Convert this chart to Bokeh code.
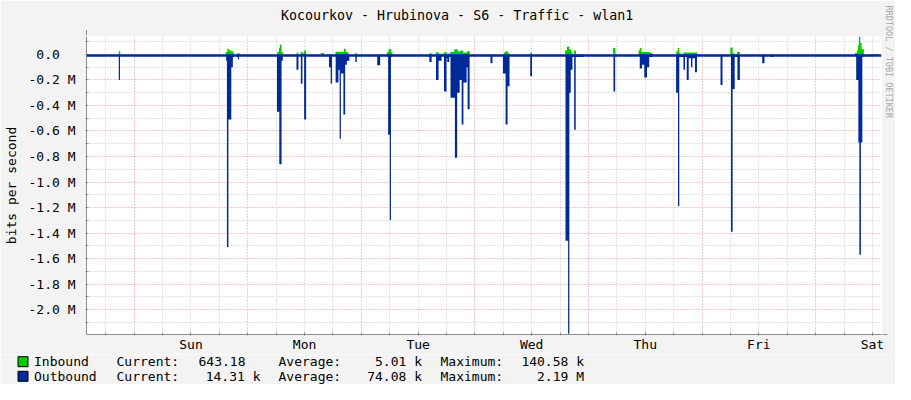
from bokeh.plotting import figure
from bokeh.layouts import column
from bokeh.models import (FixedTicker, Arrow, NormalHead, CustomJSTickFormatter, Range1d,
                          Span, Title, ColumnDataSource)
from bokeh.core.properties import value
from bokeh.embed import file_html
from bokeh.resources import INLINE

# ---------------- data (x in hours from Sunday 00:00, y in Mbit/s) ----------------
title_text = "Kocourkov - Hrubinova - S6 - Traffic - wlan1"
y_title = "bits per second"
watermark = "RRDTOOL / TOBI OETIKER"

day_names = ["Sun", "Mon", "Tue", "Wed", "Thu", "Fri", "Sat"]
day_label_hours = [12, 36, 60, 84, 108, 132, 156]
midnight_hours = [0, 24, 48, 72, 96, 120, 144]
six_hour_marks = [-6, 6, 12, 18, 30, 36, 42, 54, 60, 66, 78, 84, 90, 102, 108, 114,
                  126, 132, 138, 150, 156]
all_six_hour_marks = [-6, 0, 6, 12, 18, 24, 30, 36, 42, 48, 54, 60, 66, 72, 78, 84, 90,
                      96, 102, 108, 114, 120, 126, 132, 138, 144, 150, 156]
y_major = [-2.0, -1.8, -1.6, -1.4, -1.2, -1.0, -0.8, -0.6, -0.4, -0.2, 0.0]
y_minor = [-2.1, -1.9, -1.7, -1.5, -1.3, -1.1, -0.9, -0.7, -0.5, -0.3, -0.1, 0.1]

x_start, x_end = -10.08, 157.92
y_bottom, y_top = -2.195, 0.1406

# step series: each value holds from its time until the next time
in_t = [-10.08,
        -3.26, -2.94,
        19.32, 19.68, 20.01, 20.37, 20.90, 21.11,
        21.84, 22.26,
        30.24, 30.60, 30.81, 31.14, 31.40,
        34.34, 34.65, 35.18, 35.55, 35.91, 36.33,
        39.42, 40.11,
        42.53, 44.31, 44.73, 45.26,
        46.73, 47.04,
        53.45, 53.76, 54.33, 54.60,
        62.37, 62.85,
        63.74, 64.32, 65.42, 66.00, 66.78, 67.62, 68.36, 68.99, 69.51, 70.35, 70.92,
        78.12, 78.44, 78.96, 79.32,
        83.69, 84.06,
        91.08, 91.46, 91.88, 92.30, 92.61, 92.93, 93.35,
        101.22, 101.70,
        106.58, 106.83, 107.21, 108.99, 109.52,
        114.56, 114.87, 115.19, 115.50, 116.03, 118.97,
        125.98, 126.46, 126.82, 127.39, 128.02,
        152.31, 152.73, 152.94, 153.15, 153.45, 153.72, 154.20,
        157.92]
in_v = [0,
        0.025, 0,
        0.02, 0.045, 0.035, 0.025, 0.01, 0,
        0.012, 0,
        0.02, 0.05, 0.075, 0.02, 0,
        0.015, 0, 0.02, 0.01, 0.03, 0,
        0.012, 0,
        0.022, 0.045, 0.02, 0,
        0.012, 0,
        0.02, 0.04, 0.015, 0,
        0.01, 0,
        0.018, 0.005, 0.018, 0.008, 0.02, 0.04, 0.025, 0.03, 0.015, 0.025, 0,
        0.015, 0.025, 0.01, 0,
        0.015, 0,
        0.03, 0.062, 0.04, 0.02, 0, 0.03, 0,
        0.05, 0,
        0.03, 0.05, 0.02, 0.012, 0,
        0.025, 0.05, 0.01, 0, 0.015, 0,
        0.055, 0.01, 0, 0.02, 0,
        0.012, 0.03, 0.07, 0.14, 0.09, 0.04, 0,
        0]

out_t = [-10.08,
         -3.26, -3.00,
         3.26, 3.57,
         19.43, 19.59, 19.91, 20.52, 20.85, 21.11,
         21.63, 21.90, 22.16,
         23.21, 23.52,
         30.18, 30.66, 31.14, 31.40,
         34.29, 34.71, 35.22, 35.55, 35.91, 36.33,
         41.16, 41.52, 41.79,
         42.57, 43.16, 43.41, 43.68, 44.21, 44.58, 44.94, 45.47,
         46.73, 47.04,
         51.35, 51.98,
         53.51, 53.66, 54.01, 54.26, 54.50,
         57.75, 58.07,
         62.37, 62.85,
         63.78, 64.32, 64.95, 65.46, 66.00, 66.15, 66.57, 66.84, 67.77, 68.25, 68.78,
         69.20, 69.57, 70.25, 70.46, 70.88,
         71.72, 72.03,
         75.29, 75.71,
         77.91, 78.48, 78.90, 79.32,
         83.69, 84.06,
         91.14, 91.69, 91.96, 92.25, 92.61, 92.97, 93.30, 94.92,
         97.55, 97.86,
         101.28, 101.64,
         106.83, 107.31, 107.79, 108.36, 108.84, 109.62,
         114.51, 114.91, 115.19, 116.07, 116.40, 116.76, 117.18, 117.66, 117.96, 118.50, 118.92,
         123.90, 124.32,
         126.11, 126.46, 126.90, 127.47, 127.99,
         132.72, 133.20,
         134.40, 135.03,
         152.57, 153.03, 153.24, 153.57, 153.87, 154.14,
         155.61, 157.29,
         157.92]
out_v = [0,
         -0.20, 0,
         -0.015, 0,
         -0.05, -1.51, -0.51, -0.10, -0.02, 0,
         -0.02, -0.04, 0,
         -0.015, 0,
         -0.45, -0.86, -0.05, 0,
         -0.12, 0, -0.23, -0.01, -0.51, 0,
         -0.10, -0.23, 0,
         -0.22, -0.12, -0.66, -0.15, -0.47, -0.08, -0.05, 0,
         -0.06, 0,
         -0.085, 0,
         -0.02, -0.63, -1.30, -0.02, 0,
         -0.01, 0,
         -0.06, 0,
         -0.20, -0.05, -0.01, -0.29, -0.03, -0.06, -0.02, -0.34, -0.81, -0.30, -0.20,
         -0.55, -0.22, -0.10, -0.43, 0,
         -0.01, 0,
         -0.07, 0,
         -0.15, -0.55, -0.25, 0,
         -0.17, 0,
         -1.46, -2.19, -0.30, -0.12, -0.02, -0.59, -0.02, 0,
         -0.01, 0,
         -0.29, 0,
         -0.11, -0.08, -0.18, -0.10, -0.02, 0,
         -0.30, -1.19, -0.02, -0.12, -0.02, -0.20, -0.03, -0.10, -0.03, -0.14, 0,
         -0.24, 0,
         -1.39, -0.27, -0.02, -0.20, 0,
         -0.07, 0,
         -0.02, 0,
         -0.20, -0.69, -1.57, -0.69, -0.02, 0,
         -0.01, 0,
         0]
out_baseline = -0.008

legend_names = ["Inbound", "Outbound"]
legend_colors = ["#00cc00", "#002a97"]
legend_current = ["643.18", "14.31 k"]
legend_average = ["5.01 k", "74.08 k"]
legend_maximum = ["140.58 k", "2.19 M"]

assert len(in_t) == len(in_v) and len(out_t) == len(out_v)


def steps(t, v):
    xs, ys = [], []
    for i in range(len(t) - 1):
        xs += [t[i], t[i + 1]]
        ys += [v[i], v[i]]
    return xs, ys


# ---------------- styling ----------------
W = 895
MAIN_H, LEG_H = 354, 30
FL, FT, FW, FH = 81, 36, 800, 300        # frame inside the main figure
FONT = "DejaVu Sans Mono"
BG = "#f3f3f3"
GRID_GRAY = "#c4c4c4"
GRID_RED = "#f09090"
AXIS_GRAY = "#8c8c8c"
ARROW = "#8b1010"
TEXT_SHIFT = 5   # empirically: alphabetic glyph text renders this much lower


def no_align(f):
    try:
        f.frame_align = False
    except Exception:
        pass


# ---- main chart ----
p = figure(width=W, height=MAIN_H, x_range=Range1d(x_start, x_end),
           y_range=Range1d(y_bottom, y_top), output_backend="svg", toolbar_location=None,
           min_border_left=FL, min_border_right=W - FL - FW,
           min_border_top=FT, min_border_bottom=MAIN_H - FT - FH)
no_align(p)
p.border_fill_color = BG
p.background_fill_color = "white"
p.outline_line_color = None

p.xgrid.ticker = FixedTicker(ticks=midnight_hours, minor_ticks=six_hour_marks)
p.ygrid.ticker = FixedTicker(ticks=y_major, minor_ticks=y_minor)
for g in (p.xgrid, p.ygrid):
    g.grid_line_color = GRID_RED
    g.grid_line_dash = "1 2"
    g.minor_grid_line_color = GRID_GRAY
    g.minor_grid_line_dash = "1 2"

p.xaxis.ticker = FixedTicker(ticks=day_label_hours, minor_ticks=all_six_hour_marks)
p.xaxis.major_label_overrides = {h: d for h, d in zip(day_label_hours, day_names)}
p.yaxis.ticker = FixedTicker(ticks=y_major, minor_ticks=y_minor)
p.yaxis.formatter = CustomJSTickFormatter(
    code="return Math.abs(tick) < 1e-9 ? '0.0\\u00a0\\u00a0' : tick.toFixed(1) + ' M';")
for ax in (p.xaxis, p.yaxis):
    ax.axis_line_color = AXIS_GRAY
    ax.major_tick_line_color = AXIS_GRAY
    ax.minor_tick_line_color = AXIS_GRAY
    ax.major_tick_in = 2
    ax.major_tick_out = 1
    ax.minor_tick_in = 2
    ax.minor_tick_out = 1
    ax.major_label_text_font = FONT
    ax.major_label_text_font_size = "13px"
    ax.major_label_text_color = "black"
p.xaxis.major_label_standoff = 1
p.yaxis.major_label_standoff = 10
p.yaxis.axis_label = y_title
p.yaxis.axis_label_text_font = FONT
p.yaxis.axis_label_text_font_size = "13px"
p.yaxis.axis_label_text_font_style = "normal"
p.yaxis.axis_label_text_color = "black"
p.yaxis.axis_label_standoff = 7

# blank spacer between the frame and the title, so the title sits near the top edge
p.add_layout(Title(text="\u00a0", text_font_size="8px", standoff=3, text_color=BG,
                   align="left"), "above")

p.title.text = title_text
p.title.align = "left"
p.title.offset = 194.5
p.title.vertical_align = "bottom"
p.title.standoff = 0
p.title.text_font = FONT
p.title.text_font_size = "13.3px"
p.title.text_font_style = "normal"
p.title.text_color = "black"

ix, iy = steps(in_t, in_v)
ox, oy = steps(out_t, out_v)
p.varea(x=ix, y1=0, y2=iy, color=legend_colors[0])
p.varea(x=ox, y1=0, y2=oy, color=legend_colors[1])
p.add_layout(Span(location=out_baseline, dimension="width",
                  line_color=legend_colors[1], line_width=2.5))

p.add_layout(Arrow(end=NormalHead(size=5, fill_color=ARROW, line_color=ARROW),
                   x_start=x_start, y_start=y_top, x_end=x_start, y_end=y_top + 0.05,
                   line_color=AXIS_GRAY, line_width=1))
p.add_layout(Arrow(end=NormalHead(size=5, fill_color=ARROW, line_color=ARROW),
                   x_start=x_end, y_start=y_bottom, x_end=x_end + 1.3, y_end=y_bottom,
                   line_color=AXIS_GRAY, line_width=1))

p.add_layout(Title(text=watermark, align="left", offset=-31, vertical_align="top",
                   standoff=0, text_font=FONT, text_font_size="8.5px",
                   text_font_style="normal", text_color="#a8a8a8"), "right")

# ---- legend strip ----
leg = figure(width=W, height=LEG_H, x_range=Range1d(0, W), y_range=Range1d(LEG_H, 0),
             x_axis_type=None, y_axis_type=None, output_backend="svg",
             toolbar_location=None, min_border=0)
leg.background_fill_color = BG
leg.border_fill_color = BG
leg.outline_line_color = None
no_align(leg)

row_base = [12.2, 26.8]          # visual baselines inside the strip
leg.rect(x=[22.5, 22.5], y=[row_base[0] - 5, row_base[1] - 5], width=10, height=10,
         fill_color=legend_colors, line_color="black", line_width=1)


def leg_text(xs, texts, align):
    src = ColumnDataSource(dict(x=xs, y=[b - TEXT_SHIFT for b in row_base], text=texts))
    leg.text(x="x", y="y", text="text", source=src, text_font=value(FONT),
             text_font_size=value("13px"), text_align=align, text_baseline="alphabetic",
             text_color="black")


leg_text([33.5, 33.5], legend_names, "left")
leg_text([116, 116], ["Current:", "Current:"], "left")
leg_text([245, 260], legend_current, "right")
leg_text([278, 278], ["Average:", "Average:"], "left")
leg_text([421.5, 421.5], legend_average, "right")
leg_text([440, 440], ["Maximum:", "Maximum:"], "left")
leg_text([583.5, 583.5], legend_maximum, "right")

layout = column(p, leg, spacing=0)
open("out.html", "w").write(file_html(layout, INLINE))
